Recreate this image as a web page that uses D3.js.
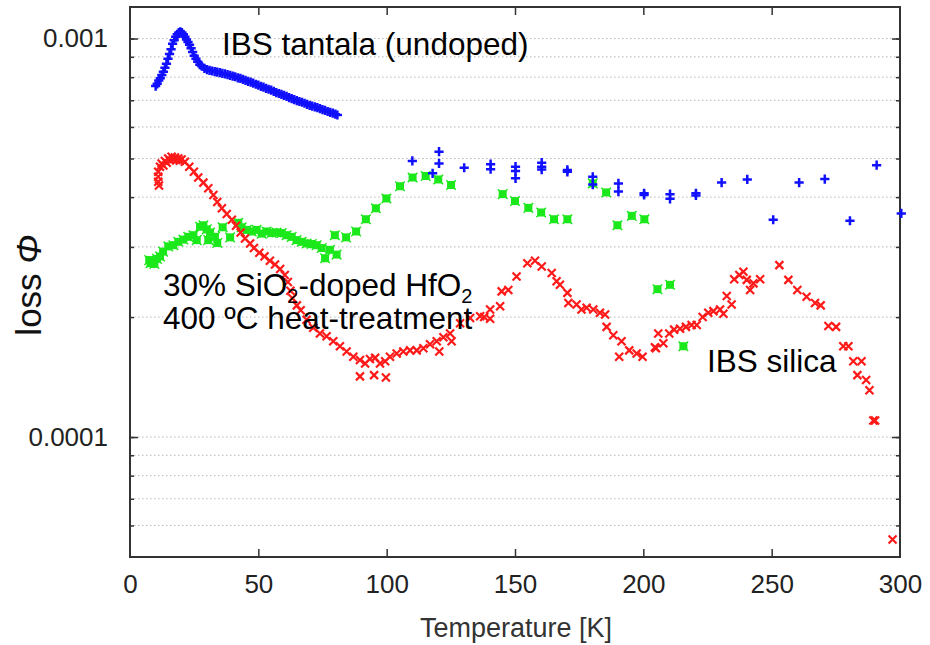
<!DOCTYPE html>
<html>
<head>
<meta charset="utf-8">
<script src="https://cdn.jsdelivr.net/npm/d3@7"></script>
<style>
  html, body { margin: 0; padding: 0; background: #fff; }
  svg { display: block; }
  text { font-family: "Liberation Sans", Arial, Helvetica, sans-serif; }
</style>
</head>
<body>
<svg id="chart" width="930" height="645"></svg>
<script>
// ---------------- DATA ----------------
// IBS tantala (undoped): temperature [K] and loss
const tantalaT = [10.0,10.6,11.2,11.8,12.4,13.0,13.6,14.2,14.8,15.4,16.0,16.6,17.2,17.8,18.4,19.0,19.6,20.2,20.8,21.4,22.0,22.6,23.2,23.8,24.4,25.0,25.7,26.4,27.2,28.0,29.0,30.0,31.0,32.0,33.0,34.0,35.0,36.0,37.0,38.0,39.0,40.0,41.0,42.0,43.0,44.0,45.0,46.0,47.0,48.0,49.0,50.0,51.0,52.0,53.0,54.0,55.0,56.0,57.0,58.0,59.0,60.0,61.0,62.0,63.0,64.0,65.0,66.0,67.0,68.0,69.0,70.0,71.0,72.0,73.0,74.0,75.0,76.0,77.0,78.0,79.0,80.0,80.8,
  110.0,117.9,120.4,120.4,130.2,140.5,140.5,150.2,150.2,150.2,160.4,160.4,160.4,170.4,170.4,180.3,180.3,190.3,190.3,200.3,200.3,210.4,210.4,220.5,220.5,230.5,240.5,250.6,260.7,270.7,280.5,290.9,300.5];
const tantalaLoss = [7.6e-4,7.7e-4,7.85e-4,7.95e-4,8.1e-4,8.25e-4,8.45e-4,8.65e-4,8.9e-4,9.15e-4,9.4e-4,9.7e-4,9.9e-4,1.01e-3,1.025e-3,1.035e-3,1.04e-3,1.035e-3,1.025e-3,1.01e-3,9.95e-4,9.8e-4,9.65e-4,9.45e-4,9.25e-4,9.05e-4,8.9e-4,8.75e-4,8.6e-4,8.52e-4,8.42e-4,8.36e-4,8.32e-4,8.29e-4,8.26e-4,8.24e-4,8.21e-4,8.18e-4,8.15e-4,8.12e-4,8.08e-4,8.05e-4,8.02e-4,7.97e-4,7.94e-4,7.9e-4,7.85e-4,7.81e-4,7.77e-4,7.73e-4,7.68e-4,7.64e-4,7.59e-4,7.55e-4,7.5e-4,7.46e-4,7.42e-4,7.37e-4,7.32e-4,7.28e-4,7.24e-4,7.2e-4,7.16e-4,7.11e-4,7.07e-4,7.03e-4,6.99e-4,6.95e-4,6.92e-4,6.88e-4,6.84e-4,6.8e-4,6.77e-4,6.74e-4,6.71e-4,6.67e-4,6.63e-4,6.6e-4,6.56e-4,6.53e-4,6.5e-4,6.46e-4,6.43e-4,
  4.93e-4,4.59e-4,5.2e-4,4.86e-4,4.74e-4,4.84e-4,4.70e-4,4.77e-4,4.65e-4,4.46e-4,4.88e-4,4.77e-4,4.69e-4,4.68e-4,4.63e-4,4.50e-4,4.30e-4,4.33e-4,4.13e-4,4.09e-4,4.05e-4,4.07e-4,3.96e-4,4.09e-4,4.04e-4,4.35e-4,4.43e-4,3.51e-4,4.35e-4,4.44e-4,3.49e-4,4.81e-4,3.64e-4];

// 30% SiO2-doped HfO2, 400 ºC heat-treatment
const hafniaT = [7.5,8.0,8.8,9.5,10.5,11.7,12.9,14.9,16.9,18.8,20.8,22.7,24.7,26.0,27.3,28.6,29.9,31.2,30.5,33.1,34.0,36.1,39.0,42.2,43.5,45.5,47.4,49.3,51.3,53.2,55.2,57.1,59.1,61.0,63.0,64.9,66.9,68.8,70.8,72.7,74.7,76.0,77.9,80.5,79.8,84.2,88.1,91.9,95.8,99.9,105.2,110.1,115.2,120.1,125.1,145.2,150.0,155.2,160.2,165.2,170.4,180.3,185.5,189.9,195.5,200.4,205.5,210.4,215.6];
const hafniaLoss = [2.78e-4,2.73e-4,2.77e-4,2.72e-4,2.80e-4,2.84e-4,2.92e-4,3.01e-4,3.03e-4,3.09e-4,3.13e-4,3.18e-4,3.21e-4,3.12e-4,3.37e-4,3.40e-4,3.32e-4,3.26e-4,3.12e-4,3.18e-4,3.07e-4,3.36e-4,3.17e-4,3.45e-4,3.36e-4,3.31e-4,3.28e-4,3.31e-4,3.24e-4,3.28e-4,3.25e-4,3.26e-4,3.25e-4,3.21e-4,3.18e-4,3.12e-4,3.09e-4,3.06e-4,3.05e-4,3.03e-4,2.98e-4,2.81e-4,2.95e-4,2.87e-4,3.21e-4,3.17e-4,3.28e-4,3.52e-4,3.75e-4,3.97e-4,4.26e-4,4.48e-4,4.52e-4,4.43e-4,4.29e-4,4.07e-4,3.91e-4,3.76e-4,3.66e-4,3.52e-4,3.52e-4,4.33e-4,4.11e-4,3.40e-4,3.59e-4,3.52e-4,2.35e-4,2.41e-4,1.69e-4];

// IBS silica
const silicaT = [11.0,11.0,11.0,11.3,11.7,12.3,13.0,13.6,14.3,14.9,15.5,16.2,16.8,17.5,18.1,18.8,19.4,20.1,21.4,23.1,24.9,26.6,28.6,30.5,32.5,34.0,35.8,37.7,39.7,41.3,43.1,44.8,46.8,48.3,50.4,52.4,54.5,56.5,58.5,60.3,61.5,62.5,63.3,65.0,66.5,68.8,71.4,74.0,76.6,79.2,81.8,84.4,87.0,89.6,91.6,93.5,95.5,97.4,99.4,89.6,95.1,99.7,101.3,103.9,106.5,109.1,111.7,114.3,116.9,119.5,120.5,122.1,124.7,125.3,128.6,132.5,136.4,138.0,140.3,140.3,144.2,144.8,147.4,150.6,154.8,157.8,160.4,164.3,166.2,167.5,170.4,170.8,174.0,175.9,177.9,180.5,183.1,185.1,185.7,188.3,191.5,190.6,194.5,197.4,199.7,204.5,204.9,205.8,207.8,210.1,212.0,214.3,216.6,218.8,220.8,223.1,225.3,227.3,229.9,231.2,232.5,234.4,235.4,237.4,239.0,240.3,241.6,242.9,245.5,253.0,256.5,260.0,263.6,266.9,269.1,272.1,275.1,277.9,279.9,281.8,285.0,283.4,286.8,288.1,289.6,290.3,297.1];
const silicaLoss = [4.37e-4,4.50e-4,4.63e-4,4.28e-4,4.77e-4,4.86e-4,4.80e-4,4.93e-4,4.88e-4,5.00e-4,4.95e-4,5.05e-4,4.98e-4,5.03e-4,4.96e-4,5.00e-4,4.94e-4,4.97e-4,4.91e-4,4.77e-4,4.63e-4,4.48e-4,4.35e-4,4.21e-4,4.05e-4,3.89e-4,3.75e-4,3.63e-4,3.51e-4,3.39e-4,3.26e-4,3.15e-4,3.06e-4,2.98e-4,2.90e-4,2.84e-4,2.77e-4,2.71e-4,2.64e-4,2.55e-4,2.45e-4,2.33e-4,2.23e-4,2.14e-4,2.08e-4,1.97e-4,1.88e-4,1.82e-4,1.79e-4,1.74e-4,1.69e-4,1.64e-4,1.59e-4,1.56e-4,1.53e-4,1.57e-4,1.58e-4,1.53e-4,1.55e-4,1.42e-4,1.43e-4,1.41e-4,1.59e-4,1.62e-4,1.64e-4,1.65e-4,1.65e-4,1.67e-4,1.71e-4,1.74e-4,1.64e-4,1.78e-4,1.82e-4,1.74e-4,1.93e-4,1.99e-4,2.01e-4,2.00e-4,2.09e-4,1.98e-4,2.13e-4,2.32e-4,2.34e-4,2.53e-4,2.73e-4,2.77e-4,2.68e-4,2.58e-4,2.46e-4,2.41e-4,2.30e-4,2.17e-4,2.15e-4,2.09e-4,2.11e-4,2.09e-4,2.05e-4,2.03e-4,1.89e-4,1.80e-4,1.74e-4,1.59e-4,1.65e-4,1.62e-4,1.59e-4,1.68e-4,1.67e-4,1.82e-4,1.72e-4,1.82e-4,1.86e-4,1.87e-4,1.89e-4,1.91e-4,1.91e-4,2.00e-4,2.05e-4,2.07e-4,2.09e-4,2.04e-4,2.26e-4,2.15e-4,2.49e-4,2.55e-4,2.60e-4,2.48e-4,2.34e-4,2.43e-4,2.49e-4,2.70e-4,2.48e-4,2.34e-4,2.25e-4,2.17e-4,2.14e-4,1.90e-4,1.89e-4,1.69e-4,1.69e-4,1.55e-4,1.55e-4,1.43e-4,1.39e-4,1.31e-4,1.10e-4,1.10e-4,5.53e-5];

// axis ticks and labels
const xTicks = [0, 50, 100, 150, 200, 250, 300];
const yMajorTicks = [1e-3, 1e-4];
const yTickLabels = ["0.001", "0.0001"];
const xTitle = "Temperature [K]";

// ---------------- CHART ----------------
const svg = d3.select("#chart");
const L = 130, R = 900, T = 7, B = 557;

const x = d3.scaleLinear().domain([0, 300]).range([L, R]);
const y = d3.scaleLog().domain([5e-5, 1.2e-3]).range([B, T]);

// minor values for log grid
const minorVals = [];
[-5, -4, -3].forEach(e => {
  for (let m = 1; m <= 9; m++) {
    const v = m * Math.pow(10, e);
    if (v > 5.05e-5 && v < 1.19e-3) minorVals.push(v);
  }
});

// grid
svg.append("g").selectAll("line").data(minorVals).join("line")
  .attr("x1", L).attr("x2", R)
  .attr("y1", d => y(d)).attr("y2", d => y(d))
  .attr("stroke", "#b8b8b8").attr("stroke-width", 1)
  .attr("stroke-dasharray", "1.5,2.5");

// axes
const frameColor = "#333";
function styleAxis(g) {
  g.select(".domain").remove();
  g.selectAll(".tick line").attr("stroke", frameColor).attr("stroke-width", 1.5);
  g.selectAll(".tick text").attr("fill", "#222").attr("font-size", 26);
}
const xInner = xTicks.filter(t => t > 0 && t < 300);

svg.append("g").attr("transform", `translate(0,${B})`)
  .call(d3.axisBottom(x).tickValues(xTicks).tickSize(0).tickPadding(18).tickFormat(d3.format("d")))
  .call(styleAxis);
svg.append("g").attr("transform", `translate(0,${B})`)
  .call(d3.axisBottom(x).tickValues(xInner).tickSize(-8).tickFormat(""))
  .call(styleAxis);
svg.append("g").attr("transform", `translate(0,${T})`)
  .call(d3.axisTop(x).tickValues(xInner).tickSize(-8).tickFormat(""))
  .call(styleAxis);

svg.append("g").attr("transform", `translate(${L},0)`)
  .call(d3.axisLeft(y).tickValues(yMajorTicks).tickSize(-8).tickPadding(22)
    .tickFormat((d, i) => yTickLabels[i]))
  .call(styleAxis);
svg.append("g").attr("transform", `translate(${L},0)`)
  .call(d3.axisLeft(y).tickValues(minorVals).tickSize(-4).tickFormat(""))
  .call(styleAxis);
svg.append("g").attr("transform", `translate(${R},0)`)
  .call(d3.axisRight(y).tickValues(yMajorTicks).tickSize(-8).tickFormat(""))
  .call(styleAxis);
svg.append("g").attr("transform", `translate(${R},0)`)
  .call(d3.axisRight(y).tickValues(minorVals).tickSize(-4).tickFormat(""))
  .call(styleAxis);

// frame
svg.append("rect").attr("x", L).attr("y", T).attr("width", R - L).attr("height", B - T)
  .attr("fill", "none").attr("stroke", frameColor).attr("stroke-width", 2);

// markers
const zip = (a, b) => a.map((v, i) => [v, b[i]]);
const plot = svg.append("g");

// green: filled square with x
const gG = plot.append("g");
zip(hafniaT, hafniaLoss).forEach(([t, v]) => {
  const cx = x(t), cy = y(v), s = 4;
  gG.append("rect").attr("x", cx - s).attr("y", cy - s).attr("width", 2 * s).attr("height", 2 * s)
    .attr("fill", "#1be81b");
  gG.append("path").attr("d", `M${cx - 4.8},${cy - 4.8}L${cx + 4.8},${cy + 4.8}M${cx - 4.8},${cy + 4.8}L${cx + 4.8},${cy - 4.8}`)
    .attr("stroke", "#1be81b").attr("stroke-width", 1.4);
});

// red: x crosses
plot.append("g").selectAll("path").data(zip(silicaT, silicaLoss)).join("path")
  .attr("d", ([t, v]) => { const cx = x(t), cy = y(v), s = 4;
    return `M${cx - s},${cy - s}L${cx + s},${cy + s}M${cx - s},${cy + s}L${cx + s},${cy - s}`; })
  .attr("stroke", "#ff1a1a").attr("stroke-width", 2.2).attr("fill", "none");

// blue: + crosses
plot.append("g").selectAll("path").data(zip(tantalaT, tantalaLoss)).join("path")
  .attr("d", ([t, v]) => { const cx = x(t), cy = y(v), s = 4.6;
    return `M${cx - s},${cy}L${cx + s},${cy}M${cx},${cy - s}L${cx},${cy + s}`; })
  .attr("stroke", "#1010ff").attr("stroke-width", 2.5).attr("fill", "none");

// axis titles
svg.append("text").attr("x", 516).attr("y", 637).attr("text-anchor", "middle")
  .attr("font-size", 27).attr("fill", "#333").text(xTitle);

const yl = svg.append("text").attr("transform", "translate(41,285) rotate(-90)")
  .attr("text-anchor", "middle").attr("font-size", 35).attr("fill", "#111");
yl.append("tspan").text("loss ");
yl.append("tspan").attr("font-style", "italic").text("Φ");

// annotations
const ann = svg.append("g").attr("fill", "#000").attr("font-size", 31.5);
ann.append("text").attr("x", 222).attr("y", 55).text("IBS tantala (undoped)");
const a1 = ann.append("text").attr("x", 163).attr("y", 296);
a1.append("tspan").text("30% SiO");
a1.append("tspan").attr("font-size", 20).attr("dy", 7).text("2");
a1.append("tspan").attr("dy", -7).text("-doped HfO");
a1.append("tspan").attr("font-size", 20).attr("dy", 7).text("2");
ann.append("text").attr("x", 163).attr("y", 329).text("400 ºC heat-treatment");
ann.append("text").attr("x", 707).attr("y", 372).text("IBS silica");
</script>
</body>
</html>
